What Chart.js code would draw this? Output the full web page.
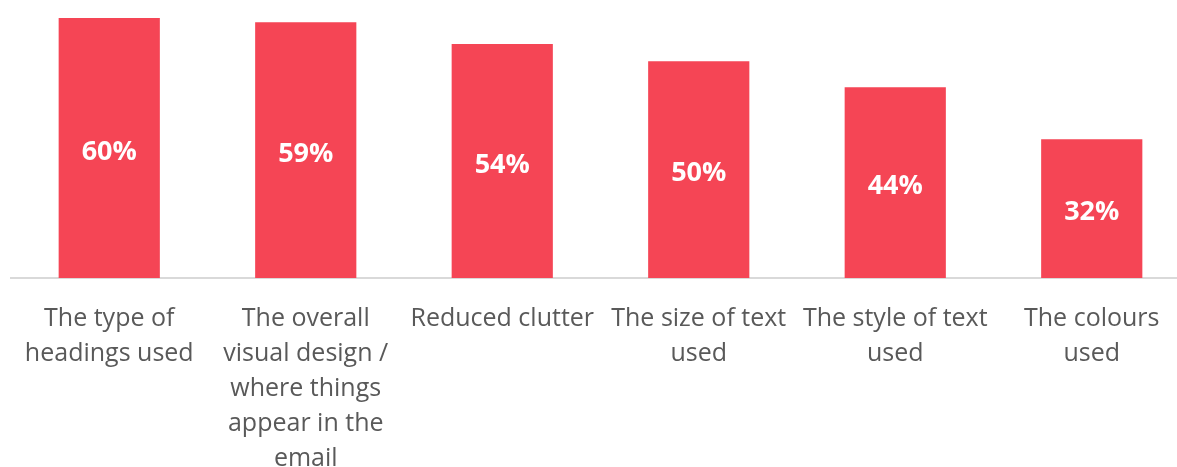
<!DOCTYPE html>
<html>
<head>
<meta charset="utf-8">
<script src="https://cdn.jsdelivr.net/npm/chart.js@4/dist/chart.umd.min.js"></script>
<style>
  html, body { margin: 0; padding: 0; background: #ffffff; overflow: hidden; }
  #wrap { width: 1190px; height: 467px; }
</style>
</head>
<body>
<div id="wrap"><canvas id="c" width="1190" height="467"></canvas></div>
<script>
// Share of respondents naming each factor
const categories = [
  ['The type of', 'headings used'],
  ['The overall', 'visual design /', 'where things', 'appear in the', 'email'],
  ['Reduced clutter'],
  ['The size of text', 'used'],
  ['The style of text', 'used'],
  ['The colours', 'used']
];
const values = [60, 59, 54, 50, 44, 32];
const valueLabels = ['60%', '59%', '54%', '50%', '44%', '32%'];

const BAR_COLOR = '#F54555';
const TEXT_COLOR = '#595959';
const FONT = '"Open Sans", "DejaVu Sans", sans-serif';

// Writes each value label in white at the middle of its bar
const barValueLabels = {
  id: 'barValueLabels',
  afterDatasetsDraw(chart) {
    const ctx = chart.ctx;
    const meta = chart.getDatasetMeta(0);
    ctx.save();
    ctx.fillStyle = '#ffffff';
    ctx.font = 'bold 27px ' + FONT;
    ctx.textAlign = 'center';
    ctx.textBaseline = 'middle';
    meta.data.forEach((bar, i) => {
      const y = (bar.y + bar.base) / 2 + 4;
      ctx.fillText(valueLabels[i], bar.x, y);
    });
    ctx.restore();
  }
};

new Chart(document.getElementById('c'), {
  type: 'bar',
  data: {
    labels: categories,
    datasets: [{
      data: values,
      backgroundColor: BAR_COLOR,
      borderWidth: 0,
      categoryPercentage: 1.0,
      barPercentage: 0.515
    }]
  },
  options: {
    responsive: false,
    animation: false,
    layout: { padding: { left: 11, top: 18, right: 0, bottom: 0 } },
    plugins: { legend: { display: false }, tooltip: { enabled: false } },
    scales: {
      x: {
        grid: { display: false, drawTicks: false },
        border: { display: true, color: '#D9D9D9', width: 2 },
        ticks: {
          color: TEXT_COLOR,
          font: { family: FONT, size: 25, lineHeight: 1.4 },
          padding: 23,
          maxRotation: 0,
          minRotation: 0,
          autoSkip: false
        },
        afterFit(scale) { scale.height = 467 - 18 - 260; }
      },
      y: {
        display: false,
        min: 0,
        max: 60
      }
    }
  },
  plugins: [barValueLabels]
});
</script>
</body>
</html>
